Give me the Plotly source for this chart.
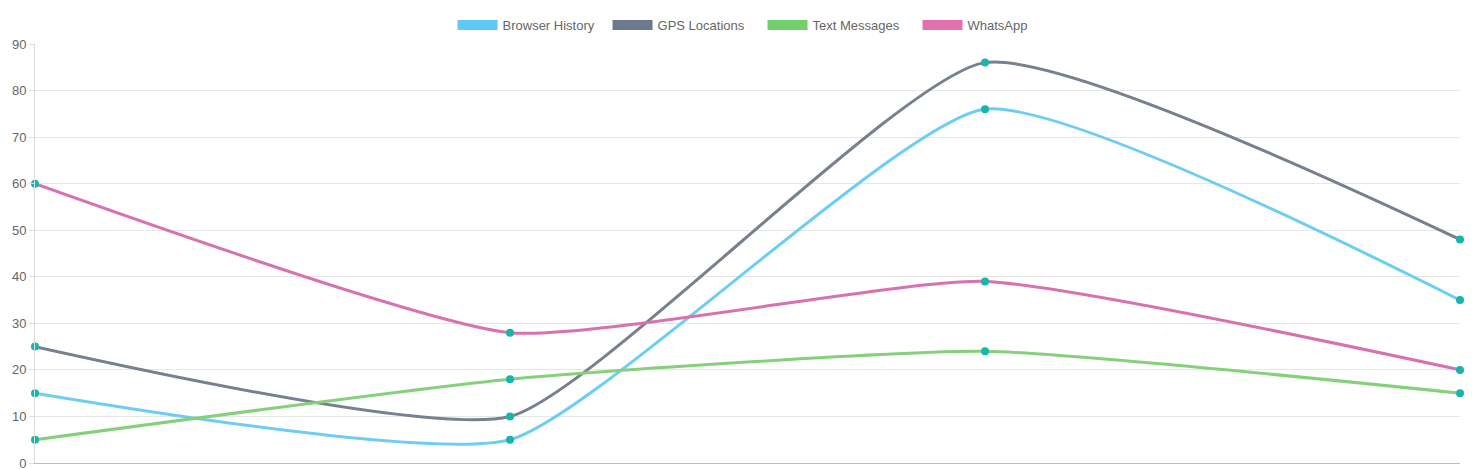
import plotly.graph_objects as go

categories = [0, 1, 2, 3]
series_names = ["Browser History", "GPS Locations", "Text Messages", "WhatsApp"]
browser_history = [15, 5, 76, 35]
gps_locations = [25, 10, 86, 48]
text_messages = [5, 18, 24, 15]
whatsapp = [60, 28, 39, 20]
y_ticks = [0, 10, 20, 30, 40, 50, 60, 70, 80, 90]

line_colors = ["#6dcdf2", "#76808e", "#86d07c", "#d872ae"]
legend_fill = ["#5fc8f8", "#6b7a8c", "#72cf6a", "#e36fac"]
point_color = "#16b5ad"

fig = go.Figure()

for name, values, color in zip(series_names,
                               [browser_history, gps_locations, text_messages, whatsapp],
                               line_colors):
    fig.add_trace(go.Scatter(
        x=categories, y=values, mode="lines+markers", name=name,
        line=dict(color=color, width=3, shape="spline", smoothing=0.5),
        marker=dict(color=point_color, size=8),
        cliponaxis=False, showlegend=False,
    ))

# box-style legend entries
for name, fc in zip(series_names, legend_fill):
    fig.add_trace(go.Scatter(
        x=[None], y=[None], mode="lines", name=name,
        line=dict(color=fc, width=12),
    ))

fig.update_layout(
    width=1474, height=469,
    margin=dict(l=35, r=14, t=44, b=6, autoexpand=False),
    plot_bgcolor="white", paper_bgcolor="white",
    font=dict(family="Liberation Sans, Arial, sans-serif", size=13, color="#666"),
    legend=dict(orientation="h", x=0.293, xanchor="left", y=1.045, yanchor="middle",
                font=dict(size=13, color="#666"), itemwidth=40,
                entrywidth=100, bgcolor="rgba(0,0,0,0)"),
    xaxis=dict(range=[0, 3], showticklabels=False, showgrid=False, zeroline=False,
               showline=True, linecolor="#bdbdbd", linewidth=1, ticks=""),
    yaxis=dict(range=[0, 90], tickvals=y_ticks, showgrid=True, gridcolor="#e6e6e6",
               zeroline=False, showline=True, linecolor="#dcdcdc", ticks="outside",
               ticklen=5, tickcolor="#dcdcdc", ticklabeloverflow="allow",
               automargin=False, tickfont=dict(size=13, color="#666")),
)

fig.write_html("out.html", config={"displayModeBar": False},
               post_script="document.body.style.margin='0';")
